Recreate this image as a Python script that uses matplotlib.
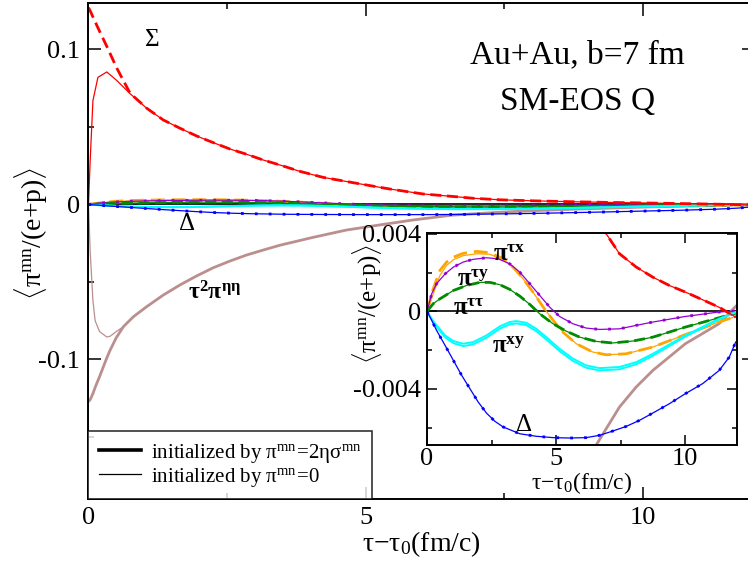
import matplotlib
matplotlib.use('Agg')
import matplotlib.pyplot as plt
from matplotlib.lines import Line2D
from matplotlib.ticker import MultipleLocator

plt.rcParams['font.family'] = ['Liberation Serif', 'DejaVu Serif']
plt.rcParams['mathtext.fontset'] = 'custom'
plt.rcParams['mathtext.rm'] = 'Liberation Serif'
plt.rcParams['mathtext.it'] = 'Liberation Serif:italic'
plt.rcParams['mathtext.bf'] = 'Liberation Serif:bold'

# ---- Sigma (red) ----
red_t = [0, 0.03, 0.08, 0.17, 0.33, 0.51, 0.75, 1.05, 1.35, 1.65, 1.95, 2.25,
         2.55, 2.85, 3.15, 3.45, 3.81, 4.23, 4.83, 5.43, 6.03, 6.63, 6.94,
         7.45, 8.1, 8.74, 9.38, 10.0, 10.67, 11.3, 11.95]
red_thick = [0.127, 0.125, 0.121, 0.114, 0.102, 0.088, 0.0718, 0.0621,
             0.0545, 0.0492, 0.0442, 0.0399, 0.0358, 0.0324, 0.0287, 0.0255,
             0.0214, 0.0175, 0.0137, 0.0100, 0.0068, 0.0050, 0.0040, 0.00298,
             0.00229, 0.00177, 0.00134, 0.0010, 0.0006, 0.00022, -0.00029]
red_thin = [0, 0.028, 0.067, 0.082, 0.0855, 0.080, 0.0715, 0.0621,
            0.0545, 0.0492, 0.0442, 0.0399, 0.0358, 0.0324, 0.0287, 0.0255,
            0.0214, 0.0175, 0.0137, 0.0100, 0.0068, 0.0050, 0.0040, 0.00298,
            0.00229, 0.00177, 0.00134, 0.0010, 0.0006, 0.00022, -0.00029]

# ---- tau^2 pi^etaeta (brown) ----
brn_t = [0, 0.03, 0.08, 0.12, 0.2, 0.33, 0.39, 0.5, 0.63, 0.81, 1.05, 1.35,
         1.65, 1.95, 2.25, 2.55, 2.85, 3.15, 3.45, 4.05, 4.65, 5.25, 5.85,
         6.55, 7.45, 8.1, 8.74, 10.0, 11.3, 11.95]
brn_thick = [-0.127, -0.126, -0.122, -0.118, -0.111, -0.099, -0.094, -0.086,
             -0.0788, -0.0724, -0.0659, -0.0584, -0.0519, -0.0461, -0.0408,
             -0.0365, -0.0326, -0.0294, -0.0263, -0.0212, -0.0165, -0.0132,
             -0.0100, -0.0069, -0.00494, -0.0039, -0.00305, -0.00167,
             -0.00064, 0.00026]
brn_thin = [0, -0.03, -0.062, -0.075, -0.082, -0.0855, -0.085, -0.082,
            -0.0788, -0.0724, -0.0659, -0.0584, -0.0519, -0.0461, -0.0408,
            -0.0365, -0.0326, -0.0294, -0.0263, -0.0212, -0.0165, -0.0132,
            -0.0100, -0.0069, -0.00494, -0.0039, -0.00305, -0.00167,
            -0.00064, 0.00026]

# ---- pi^tau x (orange) ----
orn_t = [0, 0.24, 0.5, 0.76, 1.02, 1.4, 1.92, 2.43, 2.95, 3.33, 3.72, 4.1, 4.5,
         4.88, 5.26, 5.78, 6.42, 6.94, 7.7, 8.74, 10.0, 11.3, 11.95]
orn_thick = [0, 1.17e-3, 2.12e-3, 2.55e-3, 2.8e-3, 3.0e-3, 3.1e-3, 3.03e-3,
             2.72e-3, 2.29e-3, 1.69e-3, 1.0e-3, 0.22e-3, -0.46e-3, -1.07e-3,
             -1.67e-3, -2.1e-3, -2.24e-3, -2.19e-3, -1.84e-3, -1.2e-3,
             -0.55e-3, -0.26e-3]
orn_thin = [0, 0.9e-3, 1.86e-3, 2.38e-3, 2.67e-3, 2.88e-3, 2.98e-3, 2.95e-3,
            2.67e-3, 2.27e-3, 1.69e-3, 1.0e-3, 0.22e-3, -0.46e-3, -1.07e-3,
            -1.67e-3, -2.1e-3, -2.24e-3, -2.19e-3, -1.84e-3, -1.2e-3,
            -0.55e-3, -0.26e-3]

# ---- pi^tau y (purple) ----
pur_t = [0, 0.18, 0.37, 0.7, 1.02, 1.4, 1.79, 2.3, 2.75, 3.2, 3.59, 3.98, 4.36,
         4.75, 5.13, 5.65, 6.16, 6.68, 7.45, 8.1, 8.74, 10.0, 11.3, 11.95]
pur_v = [0, 0.91e-3, 1.43e-3, 1.94e-3, 2.29e-3, 2.55e-3, 2.69e-3, 2.77e-3,
         2.72e-3, 2.46e-3, 2.03e-3, 1.43e-3, 0.83e-3, 0.22e-3, -0.26e-3,
         -0.64e-3, -0.86e-3, -0.93e-3, -0.9e-3, -0.72e-3, -0.55e-3, -0.26e-3,
         -0.03e-3, 0.02e-3]

# ---- pi^tau tau (green) ----
grn_t = [0, 0.24, 0.5, 1.02, 1.53, 2.05, 2.43, 2.82, 3.2, 3.59, 3.98, 4.36,
         4.88, 5.39, 5.91, 6.55, 7.19, 7.97, 8.74, 10.0, 11.3, 11.95]
grn_v = [0, 0.4e-3, 0.65e-3, 1.08e-3, 1.34e-3, 1.5e-3, 1.5e-3, 1.38e-3,
         1.14e-3, 0.79e-3, 0.36e-3, -0.12e-3, -0.64e-3, -1.02e-3, -1.33e-3,
         -1.55e-3, -1.63e-3, -1.53e-3, -1.33e-3, -0.81e-3, -0.33e-3, -0.09e-3]

# ---- pi^xy (cyan), two close lines ----
cyn_t = [0, 0.18, 0.37, 0.7, 1.02, 1.4, 1.79, 2.3, 2.82, 3.2, 3.46, 3.85, 4.23,
         4.62, 5.13, 5.65, 6.16, 6.68, 7.45, 8.1, 8.74, 10.0, 11.3, 11.95]
cyn_a = [0, -0.38e-3, -0.72e-3, -1.24e-3, -1.53e-3, -1.67e-3, -1.58e-3,
         -1.24e-3, -0.77e-3, -0.55e-3, -0.5e-3, -0.59e-3, -0.9e-3, -1.33e-3,
         -1.93e-3, -2.44e-3, -2.79e-3, -2.93e-3, -2.87e-3, -2.62e-3, -2.19e-3,
         -1.24e-3, -0.38e-3, -0.03e-3]
cyn_b = [0, -0.42e-3, -0.8e-3, -1.34e-3, -1.64e-3, -1.79e-3, -1.7e-3,
         -1.36e-3, -0.89e-3, -0.67e-3, -0.62e-3, -0.71e-3, -1.02e-3, -1.45e-3,
         -2.05e-3, -2.56e-3, -2.91e-3, -3.05e-3, -2.99e-3, -2.73e-3, -2.29e-3,
         -1.3e-3, -0.42e-3, -0.05e-3]

# ---- Delta (blue) ----
blu_t = [0, 0.18, 0.37, 0.7, 1.02, 1.34, 1.66, 1.98, 2.3, 2.63, 2.95, 3.59,
         4.23, 4.88, 5.52, 6.16, 6.68, 7.19, 7.71, 8.22, 8.74, 9.38, 10.0,
         10.67, 11.31, 11.7, 11.95]
blu_v = [0, -0.46e-3, -0.98e-3, -1.76e-3, -2.53e-3, -3.3e-3, -3.99e-3,
         -4.68e-3, -5.25e-3, -5.68e-3, -5.97e-3, -6.32e-3, -6.45e-3, -6.52e-3,
         -6.54e-3, -6.52e-3, -6.4e-3, -6.18e-3, -5.94e-3, -5.63e-3, -5.25e-3,
         -4.77e-3, -4.25e-3, -3.73e-3, -3.05e-3, -2.36e-3, -1.58e-3]

RED = '#ff0000'
ORANGE = '#ffa500'
PURPLE = '#9400d3'
GREEN = '#008b00'
CYAN = '#00ffff'
BLUE = '#0000ff'
BROWN = '#bc8f8f'

THICK = 2.0
THIN = 0.9


def draw_curves(ax):
    ax.axhline(0, color='black', lw=1.2, zorder=1)
    ax.plot(brn_t, brn_thick, color=BROWN, lw=THICK)
    ax.plot(brn_t, brn_thin, color=BROWN, lw=THIN)
    ax.plot(orn_t, orn_thick, color=ORANGE, lw=THICK, ls=(0, (5, 2.5)))
    ax.plot(orn_t, orn_thin, color=ORANGE, lw=THIN)
    ax.plot(pur_t, pur_v, color=PURPLE, lw=THIN)
    ax.plot(pur_t, pur_v, color=PURPLE, lw=THICK, ls=(0, (1, 4)))
    ax.plot(grn_t, grn_v, color=GREEN, lw=THIN)
    ax.plot(grn_t, grn_v, color=GREEN, lw=THICK, ls=(0, (4, 2)))
    ax.plot(cyn_t, cyn_a, color=CYAN, lw=1.4)
    ax.plot(cyn_t, cyn_b, color=CYAN, lw=1.4)
    ax.plot(blu_t, blu_v, color=BLUE, lw=THIN)
    ax.plot(blu_t, blu_v, color=BLUE, lw=THICK, ls=(0, (1, 4)))
    ax.plot(red_t, red_thin, color=RED, lw=THIN)
    ax.plot(red_t, red_thick, color=RED, lw=THICK, ls=(0, (4, 2)))


def style_axes(ax, major, minor, size):
    for s in ax.spines.values():
        s.set_linewidth(1.4)
    ax.tick_params(which='both', direction='in', top=True, right=True,
                   labelsize=size, width=1.1, pad=6)
    ax.tick_params(which='major', length=major)
    ax.tick_params(which='minor', length=minor)


fig = plt.figure(figsize=(7.48, 5.62), dpi=100)

ax = fig.add_axes([0.1183, 0.1121, 0.8897, 0.8826])
draw_curves(ax)
ax.set_xlim(0, 12)
ax.set_ylim(-0.19, 0.13)
ax.xaxis.set_major_locator(MultipleLocator(5))
ax.xaxis.set_minor_locator(MultipleLocator(2.5))
ax.yaxis.set_minor_locator(MultipleLocator(0.05))
ax.set_yticks([-0.1, 0, 0.1])
ax.set_yticklabels(['-0.1', '0', '0.1'])
style_axes(ax, 9, 4.5, 19)
ax.set_xlabel(r'$\mathrm{\tau{-}\tau_0(fm/c)}$', fontsize=20, labelpad=0)
ax.set_ylabel(r'$\langle\mathrm{\pi^{mn}/(e{+}p)}\rangle$', fontsize=20)
ax.yaxis.set_label_coords(-0.058, 0.535)

ax.text(1.14, 0.106, r'$\Sigma$', fontsize=18, ha='center', va='center')
ax.text(1.77, -0.0126, r'$\Delta$', fontsize=18, ha='center', va='center')
ax.text(2.28, -0.057, r'$\mathbf{\tau^{2}\pi^{\eta\eta}}$', fontsize=17,
        ha='center', va='center')
ax.text(8.82, 0.0965, 'Au+Au, b=7 fm', fontsize=24, ha='center', va='center')
ax.text(8.82, 0.0661, 'SM-EOS Q', fontsize=24, ha='center', va='center')

handles = [Line2D([], [], color='black', lw=2.6),
           Line2D([], [], color='black', lw=0.9)]
labels = [r'initialized by $\mathrm{\pi^{mn}\!=\!2\eta\sigma^{mn}}$',
          r'initialized by $\mathrm{\pi^{mn}\!=\!0}$']
leg = ax.legend(handles, labels, loc='lower left', borderaxespad=0,
                fontsize=15, frameon=True, fancybox=False, handlelength=2.0,
                handletextpad=0.5, labelspacing=0.05, borderpad=0.5)
leg.get_frame().set_edgecolor('black')
leg.get_frame().set_linewidth(1.2)

axi = fig.add_axes([0.5709, 0.2082, 0.4144, 0.3772])
draw_curves(axi)
axi.set_xlim(0, 12)
axi.set_ylim(-0.0069, 0.00405)
axi.xaxis.set_major_locator(MultipleLocator(5))
axi.xaxis.set_minor_locator(MultipleLocator(2.5))
axi.set_yticks([-0.004, 0, 0.004])
axi.set_yticklabels(['-0.004', '0', '0.004'])
axi.yaxis.set_minor_locator(MultipleLocator(0.002))
style_axes(axi, 7, 3.5, 19)
axi.tick_params(axis='x', pad=2)
axi.tick_params(axis='y', pad=4)
axi.set_xlabel(r'$\mathrm{\tau{-}\tau_0(fm/c)}$', fontsize=17, labelpad=0)
axi.set_ylabel(r'$\langle\mathrm{\pi^{mn}/(e{+}p)}\rangle$', fontsize=18)
axi.yaxis.set_label_coords(-0.139, 0.665)

axi.text(2.55, 0.00289, r'$\mathbf{\pi^{\tau x}}$', fontsize=18, va='center')
axi.text(1.15, 0.00164, r'$\mathbf{\pi^{\tau y}}$', fontsize=18, va='center')
axi.text(1.01, 0.0001, r'$\mathbf{\pi^{\tau\tau}}$', fontsize=18, va='center')
axi.text(2.5, -0.00184, r'$\mathbf{\pi^{xy}}$', fontsize=18, va='center')
axi.text(3.72, -0.00588, r'$\Delta$', fontsize=18, ha='center', va='center')

fig.savefig('out.png', dpi=100)
